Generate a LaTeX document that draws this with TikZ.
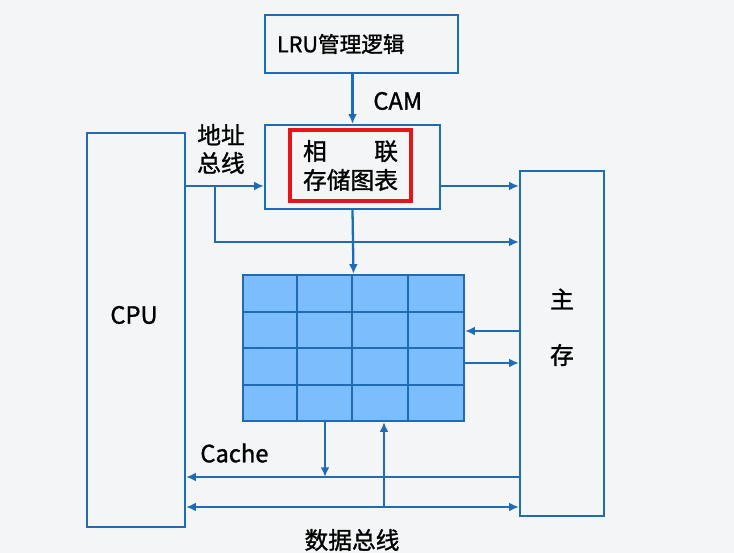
\documentclass[tikz,border=0pt]{standalone}
\usepackage{fontspec}
\setmainfont{Noto Sans CJK SC}[FakeBold=1.2]
\usetikzlibrary{arrows.meta,positioning}
\definecolor{lineblue}{HTML}{1F6BB5}
\definecolor{cellblue}{HTML}{7CBEFD}
\definecolor{tblred}{HTML}{E8141B}
\definecolor{bggray}{HTML}{F3F5F7}
\newcommand{\px}{0.02cm}

\begin{document}
\begin{tikzpicture}[x=0.02cm,y=-0.02cm,
  box/.style={draw=lineblue,line width=1.3pt,inner sep=0pt},
  arr/.style={draw=lineblue,line width=1.3pt,-{Latex[length=5.5pt,width=5pt]}},
  lbl/.style={font=\fontsize{13.5}{16}\selectfont,inner sep=0pt}]
  \fill[bggray] (0,0) rectangle (734,553);
  \useasboundingbox (0,0) rectangle (734,553);
  % boxes
  \node[box,minimum width=193*\px,minimum height=58*\px,text width=169*\px,
    align=left,font=\fontsize{12.3}{15}\selectfont] (lru) at (361.5,44) {LRU管理逻辑};
  \node[box,minimum width=175*\px,minimum height=84*\px] (cam) at (352.5,167) {};
  \node[draw=tblred,line width=2.6pt,minimum width=121*\px,minimum height=71*\px,
    inner sep=0pt,align=left,font=\fontsize{13.5}{16.5}\selectfont] (tbl) at (350.5,165.5)
    {\makebox[4em][s]{相\hfill 联}\\存储图表};
  \node[box,minimum width=98*\px,minimum height=394*\px] (cpu) at (136,330) {};
  \node[box,minimum width=84*\px,minimum height=345*\px] (mem) at (562,343.5) {};
  \node[box,fill=cellblue,minimum width=221*\px,minimum height=146*\px] (grid) at (353.5,348) {};
  \foreach \gx in {297,352,408}{\draw[lineblue,line width=1.3pt] (\gx,275)--(\gx,421);}
  \foreach \gy in {312,348,385}{\draw[lineblue,line width=1.3pt] (243,\gy)--(464,\gy);}
  % labels
  \node[lbl] (cpulbl) at (134,315) {CPU};
  \node[lbl] (zhu) at (562,299) {主};
  \node[lbl] (cun) at (562,355) {存};
  \node[lbl,anchor=west] (camlbl) at (373,101) {CAM};
  \node[lbl,align=left] (addrlbl) at (221,149) {地址\\总线};
  \node[lbl,anchor=west] (cachelbl) at (200,453) {Cache};
  \node[lbl] (datalbl) at (352,540) {数据总线};
  % address bus
  \coordinate (abus) at (215,186);
  \coordinate (abus2) at (215,242);
  \draw[arr] (cam.north |- lru.south) -- (cam.north);
  \draw[arr] (cpu.east |- abus) -- (cam.west |- abus);
  \draw[arr] (abus) -- (abus2) -- (mem.west |- abus2);
  \draw[arr] (cam.east |- abus) -- (mem.west |- abus);
  \draw[arr] (cam.south) -- (grid.north);
  \draw[arr] (mem.west |- 0,331) -- (grid.east |- 0,331);
  \draw[arr] (grid.east |- 0,363) -- (mem.west |- 0,363);
  % data bus
  \coordinate (cbus) at (325,477);
  \coordinate (dbus) at (384,507);
  \draw[arr] (mem.west |- cbus) -- (cpu.east |- cbus);
  \draw[arr] (grid.south -| cbus) -- (cbus);
  \draw[arr,{Latex[length=5.5pt,width=5pt]}-{Latex[length=5.5pt,width=5pt]}] (cpu.east |- dbus) -- (mem.west |- dbus);
  \draw[arr] (dbus) -- (grid.south -| dbus);
\end{tikzpicture}
\end{document}
